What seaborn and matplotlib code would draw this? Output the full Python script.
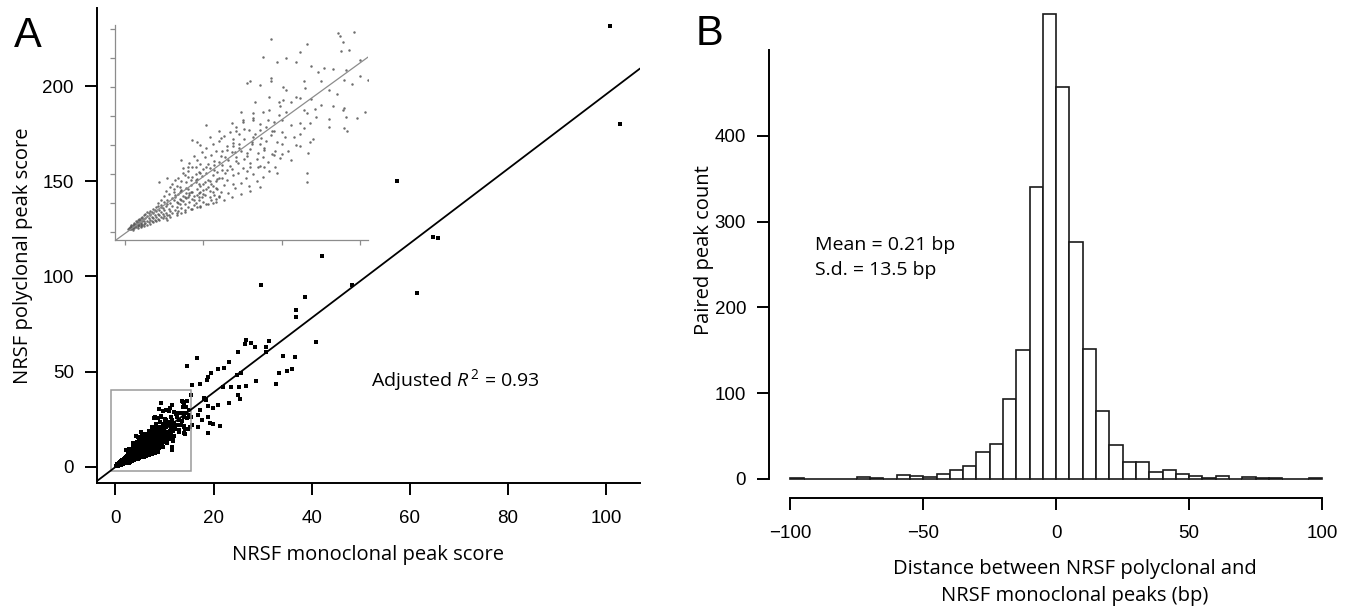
import matplotlib
matplotlib.use("Agg")
import matplotlib.pyplot as plt
import seaborn as sns
import numpy as np
import pandas as pd
from matplotlib.patches import Rectangle

# ---------------- Panel A data (monoclonal score, polyclonal score) ----------------
core_pts = [
    (0.2,0.5),(0.3,0.6),(0.4,0.9),(0.5,0.7),(0.6,1.1),(0.7,0.9),(0.8,1.4),(0.9,1.2),(1.0,1.6),(1.1,1.3),
    (0.3,0.9),(0.4,0.5),(0.5,1.2),(0.6,0.8),(0.7,1.5),(0.8,1.0),(0.9,1.8),(1.0,1.1),(1.1,2.0),(1.2,1.5),
    (0.25,0.7),(0.35,1.1),(0.45,0.8),(0.55,1.4),(0.65,1.0),(0.75,1.7),(0.85,1.3),(0.95,2.1),(1.05,1.4),(1.15,2.3),
    (1.2,1.9),(1.3,1.6),(1.3,2.4),(1.4,2.0),(1.4,2.8),(1.5,1.7),(1.5,2.5),(1.6,2.2),(1.6,3.0),(1.7,1.9),
    (1.7,2.7),(1.8,2.4),(1.8,3.3),(1.9,2.1),(1.9,2.9),(2.0,2.6),(2.0,3.6),(2.1,2.3),(2.1,3.2),(2.2,2.9),
    (2.2,3.9),(2.3,2.6),(2.3,3.5),(2.4,3.1),(2.4,4.2),(2.5,2.8),(2.5,3.8),(2.6,3.4),(2.6,4.6),(2.7,3.0),
    (0.5,0.4),(0.8,0.7),(1.0,0.9),(1.2,1.1),(1.4,1.3),(1.6,1.5),(1.8,1.7),(2.0,1.9),(0.6,1.6),(0.9,2.3),
    (1.1,2.7),(1.3,3.1),(1.5,3.4),(0.4,1.3),(0.7,2.0),(2.2,2.1),(2.4,2.4),(2.6,2.5),(2.8,2.9),(2.9,3.6),
]
mid_pts = [
    (2.8,4.1),(2.9,5.0),(3.0,3.4),(3.0,4.6),(3.1,5.5),(3.2,3.9),(3.2,6.1),(3.3,4.4),(3.3,5.2),(3.4,3.6),
    (3.4,6.6),(3.5,4.9),(3.5,5.8),(3.6,4.2),(3.6,7.1),(3.7,5.4),(3.7,6.3),(3.8,3.9),(3.8,4.8),(3.9,6.8),
    (3.9,5.9),(4.0,4.4),(4.0,7.5),(4.1,5.3),(4.1,6.5),(4.2,4.0),(4.2,8.1),(4.3,5.8),(4.3,7.0),(4.4,4.7),
    (4.4,6.2),(4.5,8.6),(4.5,5.1),(4.6,7.4),(4.6,9.2),(4.7,5.6),(4.7,6.8),(4.8,4.5),(4.8,8.0),(4.9,6.1),
    (4.9,9.7),(5.0,5.2),(5.0,7.3),(5.1,8.6),(5.1,6.4),(5.2,10.3),(5.2,4.9),(5.3,7.8),(5.3,9.1),(5.4,6.0),
    (5.4,11.0),(5.5,5.5),(5.5,8.3),(5.6,7.0),(5.6,9.8),(5.7,6.5),(5.7,11.6),(5.8,8.9),(5.8,5.8),(5.9,10.4),
    (5.9,7.5),(6.0,6.2),(6.0,9.4),(6.0,12.2),(3.1,6.9),(3.5,7.8),(3.9,8.6),(4.3,9.5),(4.7,10.4),(2.7,5.6),
    (3.3,3.0),(3.8,3.5),(4.3,4.0),(4.8,4.4),(5.3,4.9),(5.8,5.3),(2.9,2.7),(3.6,3.3),(4.6,4.3),(5.6,5.1),
]
extra_pts = [
    (2.3,5.5),(2.5,6.3),(2.6,7.2),(2.8,6.6),(2.9,7.8),(3.0,8.3),(3.1,7.4),(3.3,8.0),(3.4,9.4),(3.5,6.9),
    (3.6,8.8),(3.7,11.0),(3.8,9.9),(3.9,7.6),(4.0,10.5),(4.1,12.0),(4.2,9.0),(4.3,11.2),(4.4,13.1),(4.5,10.0),
    (4.6,12.4),(4.7,8.4),(4.8,11.7),(4.9,13.8),(5.0,10.9),(5.1,12.9),(5.2,14.5),(5.3,11.8),(5.4,8.9),(5.5,13.4),
    (5.6,15.2),(5.7,12.3),(5.8,14.0),(5.9,9.2),(6.0,15.8),(6.1,13.1),(6.2,11.6),(6.3,16.6),(6.4,10.2),(6.5,14.2),
    (6.6,12.5),(6.7,17.3),(6.8,10.9),(6.9,16.0),(7.0,13.9),(7.1,18.2),(7.2,11.9),(7.3,16.9),(7.4,14.1),(7.5,19.1),
    (2.0,4.4),(2.1,5.0),(2.3,4.7),(2.5,5.2),(2.7,4.9),(3.0,5.9),(3.2,6.5),(3.4,5.1),(3.6,5.6),(3.8,6.1),
    (4.0,6.0),(4.2,6.9),(4.4,5.5),(4.6,6.4),(4.8,7.0),(5.0,6.6),(5.2,7.5),(5.4,7.1),(5.6,8.0),(5.8,7.7),
    (1.6,3.7),(1.8,4.1),(1.9,3.9),(2.1,4.5),(2.3,4.3),(1.4,3.5),(1.2,2.9),(1.0,2.5),(0.8,2.1),(1.7,3.5),
    (7.6,12.7),(7.8,10.6),(8.0,14.3),(8.2,16.5),(8.4,12.6),(8.6,18.6),(8.8,13.0),(9.0,15.7),(9.2,21.0),(9.4,17.4),
    (9.6,14.0),(9.8,22.5),(10.0,15.2),(10.3,20.8),(10.6,12.5),(10.9,23.4),(11.2,16.9),(11.5,24.8),(11.8,15.5),(12.1,21.3),
]
upper_pts = [
    (6.1,7.0),(6.2,10.8),(6.3,8.2),(6.4,12.9),(6.5,9.0),(6.6,6.8),(6.7,11.5),(6.8,13.8),(6.9,9.8),(7.0,7.6),
    (7.1,12.3),(7.2,10.2),(7.3,14.6),(7.4,8.5),(7.5,11.0),(7.6,16.0),(7.7,9.3),(7.8,13.2),(7.9,7.9),(8.0,12.0),
    (8.1,15.2),(8.2,10.1),(8.3,17.0),(8.4,8.8),(8.5,13.7),(8.6,11.4),(8.7,16.3),(8.8,9.6),(8.9,14.5),(9.0,18.1),
    (9.1,12.2),(9.2,10.5),(9.3,16.8),(9.4,13.5),(9.5,19.0),(9.6,11.3),(9.7,15.5),(9.8,20.2),(9.9,12.8),(10.0,17.3),
    (6.3,5.6),(6.8,6.1),(7.4,6.6),(8.0,7.2),(8.6,7.8),(6.2,14.0),(6.9,15.4),(7.6,17.8),(8.2,19.4),(10.4,14.1),
    (10.8,16.4),(11.2,18.9),(11.6,20.5),(12.0,16.0),(12.5,22.0),(13.0,19.5),(13.5,23.8),(14.0,21.5),(14.5,25.5),(15.0,27.0),
]
sparse_pts = [
    (13.6,34.4),(14.6,34.6),(13.7,33.9),(9.3,33.3),(13.9,32.8),(11.6,32.4),(11.2,31.1),(13.8,31.3),(14.3,31.4),(8.8,30.2),
    (9.7,29.3),(10.3,30.0),(10.9,29.4),(11.9,28.6),(12.3,27.7),(12.7,28.4),(13.3,28.1),(14.1,28.0),(15.0,29.7),(11.4,26.1),
    (12.5,26.1),(14.0,26.3),(9.3,26.6),(9.3,26.0),(7.8,25.7),(8.0,26.0),(8.6,25.4),(10.1,25.1),(10.3,24.5),(13.0,24.5),
    (9.2,23.3),(8.3,22.5),(10.1,22.8),(10.6,22.5),(11.2,23.1),(11.9,22.9),(13.3,21.8),(13.9,21.1),(15.3,20.8),(8.2,20.5),
    (8.8,20.8),(9.9,21.7),(7.4,20.8),(11.4,21.1),(12.2,19.9),(14.8,19.7),(14.1,19.9),(6.8,18.9),(7.5,19.4),(8.2,19.7),
    (9.1,19.4),(10.0,19.4),(10.6,18.5),(11.4,17.9),(11.8,18.8),(13.0,18.2),(14.0,17.9),(14.2,17.4),(5.2,18.5),(6.0,17.4),
    (7.1,17.4),(7.9,17.6),(8.6,17.6),(9.5,17.4),(10.2,16.5),(10.9,15.1),(11.2,14.8),(11.7,13.6),(10.0,13.5),(9.5,13.3),
    (4.3,15.9),(4.6,15.6),(4.8,15.1),(5.4,16.5),(6.1,16.2),(6.5,14.8),(6.9,14.8),(7.3,15.3),(8.1,15.6),(8.6,15.3),
    (8.9,14.2),(7.8,13.6),(7.1,13.0),(8.0,11.3),(8.5,11.3),(8.9,11.3),(9.7,10.2),(11.6,8.7),(11.6,10.2),(6.9,8.4),
    (6.2,9.3),(6.0,6.1),(5.0,8.4),(3.6,12.5),(4.0,11.3),(4.5,11.3),(4.8,10.2),(5.2,11.3),(5.7,10.7),(6.5,10.7),
    (2.2,8.6),(2.7,9.3),(3.2,9.0),(3.7,10.2),(4.0,9.6),(4.5,9.0),(3.6,7.3),(4.1,6.7),(4.7,6.1),(3.3,3.3),(2.7,2.1),
]
outer_pts = [
    (36.9,82.3),(36.8,78.8),(40.9,65.7),(26.7,66.5),(27.6,64.8),(28.4,63.0),(26.4,64.3),(31.2,66.2),(30.6,63.0),(30.6,60.4),
    (24.9,60.4),(16.6,56.9),(14.5,52.9),(23.1,55.2),(22.2,51.7),(21.0,51.1),(19.5,49.0),(18.9,46.9),(18.6,45.5),(25.7,49.0),
    (24.8,48.2),(34.2,58.1),(36.6,57.8),(35.9,51.1),(34.9,50.4),(33.3,49.4),(28.6,45.2),(32.7,43.4),(26.7,42.4),(25.2,41.7),
    (23.5,41.7),(21.9,41.7),(17.2,43.3),(15.7,42.7),(15.5,37.7),(24.9,37.7),(25.4,35.4),(23.2,33.6),(21.0,32.4),(18.1,35.9),
    (18.5,35.0),(18.9,31.9),(19.8,30.6),(17.2,29.8),(16.9,27.1),(17.6,24.5),(18.9,25.9),(19.3,22.8),(19.9,22.4),(21.3,21.4),
    (18.9,17.9),(16.9,20.7),(15.7,21.9),(15.5,26.3),
    (42.0,110.9),(29.7,95.5),(48.3,95.5),(61.4,91.1),(38.6,89.0),
    (100.8,231.6),(102.7,180.1),(57.3,150.3),(64.8,120.5),(65.8,120.2),
]
fit_intercept = -0.2
fit_slope = 1.96
zoom_box = (-0.9, 15.4, -2.3, 40.1)   # x0, x1, y0, y1
xticks_A = [0, 20, 40, 60, 80, 100]
yticks_A = [0, 50, 100, 150, 200]
xticks_inset = [0, 5, 10, 15]
yticks_inset = [0, 5, 10, 15, 20, 25, 30, 35]

# ---------------- Panel B data (5 bp bins) ----------------
bin_edges = list(range(-100, 105, 5))
bin_counts = [1, 0, 0, 0, 0, 2, 1, 0, 4, 3,
              2, 5, 10, 15, 31, 41, 93, 150, 340, 542,
              457, 276, 151, 79, 39, 20, 19, 8, 10, 5,
              3, 1, 3, 0, 2, 1, 1, 0, 0, 1]
xticks_B = [-100, -50, 0, 50, 100]
yticks_B = [0, 100, 200, 300, 400]

# ---------------- style ----------------
sns.set_theme(style="ticks")
plt.rcParams['font.family'] = ['Liberation Sans', 'DejaVu Sans']
plt.rcParams['mathtext.fontset'] = 'custom'
plt.rcParams['mathtext.rm'] = 'Open Sans'
plt.rcParams['mathtext.it'] = 'Open Sans:italic'
for k in ('text.color', 'axes.labelcolor', 'xtick.color', 'ytick.color', 'axes.edgecolor'):
    plt.rcParams[k] = 'black'
LBL = ['Open Sans', 'DejaVu Sans']

W, H = 1356, 612
fig = plt.figure(figsize=(W / 100, H / 100), dpi=100)

def ax_rect(L, T, R, B):
    return [L / W, 1 - B / H, (R - L) / W, (B - T) / H]

def fx(px): return px / W
def fy(py): return 1 - py / H

df = pd.DataFrame(core_pts + mid_pts + extra_pts + upper_pts + sparse_pts + outer_pts,
                  columns=["mono", "poly"])

# ---------------- Panel A main ----------------
A_L, A_T, A_R, A_B = 96.7, 8.3, 640, 482.7
axA = fig.add_axes(ax_rect(A_L, A_T, A_R, A_B))
sns.scatterplot(data=df, x="mono", y="poly", ax=axA, marker="s", s=7,
                color="black", linewidth=0, legend=False)
axA.axline((0, fit_intercept), slope=fit_slope, color="black", lw=1.3)
axA.add_patch(Rectangle((zoom_box[0], zoom_box[2]), zoom_box[1] - zoom_box[0],
                        zoom_box[3] - zoom_box[2], fill=False, ec="#9a9a9a", lw=1.1))
axA.set_xlim(-3.79, 106.86)
axA.set_ylim(-8.4, 240.9)
axA.set_xticks(xticks_A)
axA.set_yticks(yticks_A)
for s in ("top", "right"):
    axA.spines[s].set_visible(False)
for s in ("left", "bottom"):
    axA.spines[s].set_linewidth(1.4)
    axA.spines[s].set_color("black")
axA.tick_params(axis="both", length=8.5, width=1.4, color="black",
                labelsize=13.5, direction="out", labelcolor="black")
axA.tick_params(axis="x", pad=11)
axA.tick_params(axis="y", pad=8)
axA.set_xlabel("NRSF monoclonal peak score", family=LBL, fontsize=14.5, va="baseline")
axA.xaxis.set_label_coords((368 - A_L) / (A_R - A_L), (A_B - 560) / (A_B - A_T))
axA.set_ylabel("NRSF polyclonal peak score", family=LBL, fontsize=14.5,
               rotation_mode="anchor", ha="center", va="baseline")
axA.yaxis.set_label_coords((28 - A_L) / (A_R - A_L), (A_B - 256) / (A_B - A_T))

# ---------------- Panel A inset ----------------
I_L, I_T, I_R, I_B = 115, 25, 368.3, 240
axI = fig.add_axes(ax_rect(I_L, I_T, I_R, I_B))
axI.patch.set_alpha(0)
sns.scatterplot(data=df, x="mono", y="poly", ax=axI, marker="o", s=3.2,
                color="#555555", linewidth=0, alpha=0.85, legend=False)
axI.axline((0, fit_intercept), slope=fit_slope, color="#8c8c8c", lw=0.9)
axI.set_xlim(-0.64, 15.53)
axI.set_ylim(-1.33, 35.74)
axI.set_xticks(xticks_inset)
axI.set_yticks(yticks_inset)
axI.set_xticklabels([])
axI.set_yticklabels([])
axI.set_xlabel("")
axI.set_ylabel("")
for s in ("top", "right"):
    axI.spines[s].set_visible(False)
for s in ("left", "bottom"):
    axI.spines[s].set_linewidth(0.9)
    axI.spines[s].set_color("#8c8c8c")
axI.tick_params(axis="both", length=3.6, width=0.9, color="#8c8c8c", direction="out")

fig.text(fx(371), fy(386), r"Adjusted $R^{\,2}$ = 0.93", family=LBL, fontsize=14,
         va="baseline", ha="left", color="black")
fig.text(fx(14), fy(47), "A", fontsize=30, va="baseline", ha="left", color="black")

# ---------------- Panel B ----------------
B_L, B_T, B_R, B_B = 769, 3, 1343.3, 497.7
axB = fig.add_axes(ax_rect(B_L, B_T, B_R, B_B))
centers = [(bin_edges[i] + bin_edges[i + 1]) / 2 for i in range(len(bin_counts))]
sns.histplot(x=centers, weights=bin_counts, bins=bin_edges, ax=axB,
             color="white", edgecolor="#1a1a1a", linewidth=1.2, alpha=1.0, stat="count")
axB.set_xlim(-108, 108)
axB.set_ylim(-22.18, 555.2)
axB.set_xticks(xticks_B)
axB.set_yticks(yticks_B)
for s in ("top", "right"):
    axB.spines[s].set_visible(False)
axB.spines["left"].set_bounds(0, 500)
axB.spines["bottom"].set_bounds(-100, 100)
for s in ("left", "bottom"):
    axB.spines[s].set_linewidth(1.4)
    axB.spines[s].set_color("black")
axB.tick_params(axis="both", length=8.5, width=1.4, color="black",
                labelsize=13.5, direction="out", labelcolor="black")
axB.tick_params(axis="x", pad=11)
axB.tick_params(axis="y", pad=8)
axB.set_xlabel("Distance between NRSF polyclonal and\nNRSF monoclonal peaks (bp)",
               family=LBL, fontsize=14.5, va="baseline", ha="center", linespacing=1.45)
axB.xaxis.set_label_coords((1075 - B_L) / (B_R - B_L), (B_B - 601) / (B_B - B_T))
axB.set_ylabel("Paired peak count", family=LBL, fontsize=14.5,
               rotation_mode="anchor", ha="center", va="baseline")
axB.yaxis.set_label_coords((709 - B_L) / (B_R - B_L), (B_B - 250) / (B_B - B_T))

fig.text(fx(815), fy(250), "Mean = 0.21 bp", family=LBL, fontsize=14, va="baseline", color="black")
fig.text(fx(815), fy(275), "S.d. = 13.5 bp", family=LBL, fontsize=14, va="baseline", color="black")
fig.text(fx(696), fy(45), "B", fontsize=30, va="baseline", ha="left", color="black")

fig.savefig("out.png", dpi=100)
